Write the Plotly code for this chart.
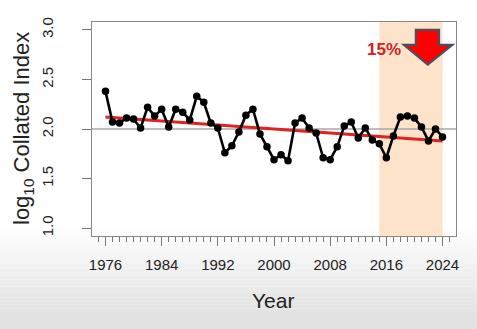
import plotly.graph_objects as go

years = list(range(1976, 2025))
values = [2.38, 2.07, 2.06, 2.11, 2.10, 2.01, 2.22, 2.13, 2.20, 2.02,
          2.20, 2.17, 2.09, 2.33, 2.27, 2.06, 2.01, 1.76, 1.83, 1.97,
          2.14, 2.20, 1.95, 1.82, 1.69, 1.74, 1.68, 2.06, 2.11, 2.01,
          1.96, 1.71, 1.69, 1.82, 2.03, 2.07, 1.91, 2.01, 1.89, 1.85,
          1.71, 1.93, 2.12, 2.13, 2.11, 2.02, 1.88, 2.00, 1.92]
trend_years = [1976, 2024]
trend_values = [2.12, 1.88]
ref_level = 2.0
shade_years = [2015, 2024]
x_ticks = [1976, 1984, 1992, 2000, 2008, 2016, 2024]
y_ticks = [1.0, 1.5, 2.0, 2.5, 3.0]
change_label = "15%"
x_title = "Year"
y_title = "log<sub>10</sub> Collated Index"

W, H = 477, 329
ml, mr, mt, mb = 92, 21, 22, 93
pw = W - ml - mr
ph = H - mt - mb

fig = go.Figure()

fig.add_trace(go.Scatter(x=trend_years, y=trend_values, mode="lines",
                         line=dict(color="#e02222", width=3),
                         hoverinfo="skip", showlegend=False))
fig.add_trace(go.Scatter(x=years, y=values, mode="lines+markers",
                         line=dict(color="black", width=2.6),
                         marker=dict(color="black", size=7.5),
                         showlegend=False))

shapes = []
# background gradient at bottom of page
n = 24
g0, g1 = 225, 312
for i in range(n):
    a = g0 + (g1 - g0) * i / n
    b = g0 + (g1 - g0) * (i + 1) / n
    t = (i + 0.5) / n
    c = int(round(255 - (255 - 226) * t))
    shapes.append(dict(type="rect", xref="paper", yref="paper", layer="below",
                       x0=-ml / pw - 0.01, x1=1 + mr / pw + 0.01,
                       y0=(H - mb - b) / ph, y1=(H - mb - a) / ph,
                       fillcolor=f"rgb({c},{c},{c})", line=dict(width=0)))
shapes.append(dict(type="rect", xref="paper", yref="paper", layer="below",
                   x0=-ml / pw - 0.01, x1=1 + mr / pw + 0.01,
                   y0=(H - mb - H - 2) / ph, y1=(H - mb - g1) / ph,
                   fillcolor="rgb(226,226,226)", line=dict(width=0)))
# shaded recent period
shapes.append(dict(type="rect", xref="x", yref="paper", layer="below",
                   x0=shade_years[0], x1=shade_years[1], y0=0, y1=1,
                   fillcolor="#fde3c9", line=dict(width=0)))
# reference line
shapes.append(dict(type="line", xref="paper", yref="y", layer="below",
                   x0=0, x1=1, y0=ref_level, y1=ref_level,
                   line=dict(color="#a8a8a8", width=1.5)))
# down arrow
shapes.append(dict(type="path", xref="x", yref="y",
                   path="M 2020.2,3.0 L 2023.5,3.0 L 2023.5,2.85 L 2025.4,2.85 "
                        "L 2021.9,2.65 L 2018.5,2.85 L 2020.2,2.85 Z",
                   fillcolor="#ff0000", line=dict(color="#4d4d60", width=2.2)))

fig.update_layout(
    width=W, height=H,
    margin=dict(l=ml, r=mr, t=mt, b=mb),
    paper_bgcolor="white", plot_bgcolor="rgba(0,0,0,0)",
    font=dict(family="Liberation Sans, Arial, sans-serif", color="#222"),
    shapes=shapes,
    annotations=[
        dict(x=2015.7, y=2.80, xref="x", yref="y", text=change_label,
             showarrow=False,
             font=dict(size=17, color="#d42026",
                       family="Liberation Sans, Arial, sans-serif",
                       weight="bold")),
        dict(x=(273 - ml) / pw, y=(H - mb - 300) / ph, xref="paper", yref="paper",
             text=x_title, showarrow=False, xanchor="center", yanchor="middle",
             font=dict(size=21, color="#222")),
        dict(x=(23 - ml) / pw, y=(H - mb - 129) / ph, xref="paper", yref="paper",
             text=y_title, showarrow=False, xanchor="center", yanchor="middle",
             textangle=-90, font=dict(size=22, color="#222")),
    ],
)

fig.update_xaxes(range=[1974.08, 2025.92], tickmode="array", tickvals=x_ticks,
                 ticks="outside", ticklen=9, tickcolor="#777", tickwidth=1,
                 minor=dict(dtick=1, tick0=1976, ticks="outside", ticklen=5,
                            tickcolor="#777", showgrid=False),
                 showgrid=False, zeroline=False,
                 showline=True, linecolor="#888", linewidth=1, mirror=True,
                 tickfont=dict(size=15, color="#222"), ticklabelstandoff=6)
fig.update_yaxes(range=[0.92, 3.08], tickmode="array", tickvals=y_ticks,
                 ticktext=[f"{v:.1f}" for v in y_ticks],
                 ticks="outside", ticklen=9, tickcolor="#777", tickwidth=1,
                 showgrid=False, zeroline=False,
                 showline=True, linecolor="#888", linewidth=1, mirror=True,
                 tickangle=-90, tickfont=dict(size=15, color="#222"),
                 ticklabelstandoff=23)

fig.write_html("out.html")
